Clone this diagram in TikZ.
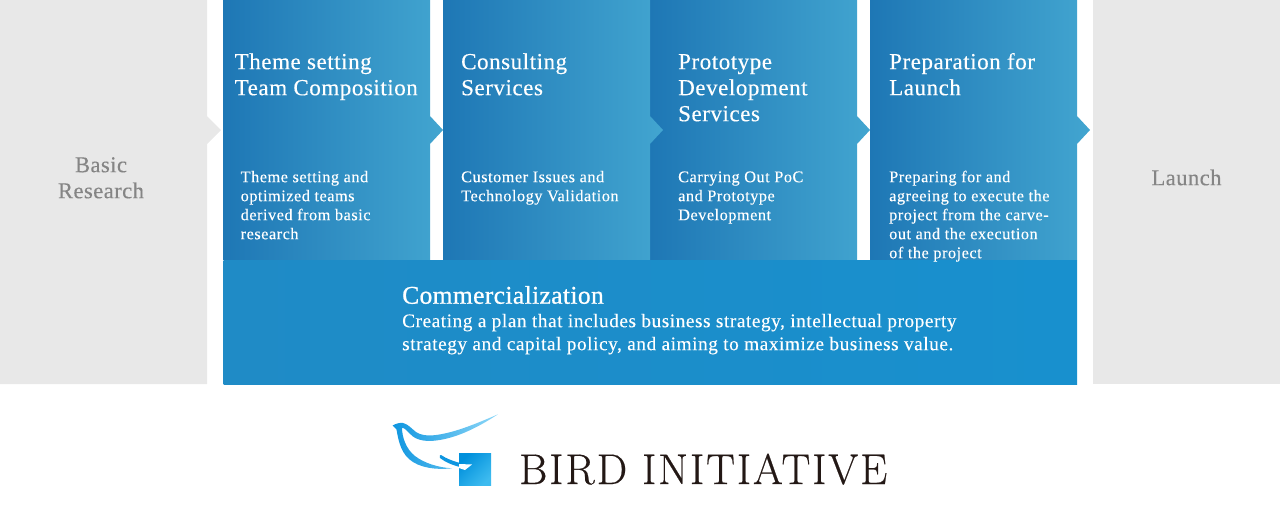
\documentclass[tikz,border=0pt]{standalone}
\usepackage{fontspec}
\setmainfont{Liberation Serif}
\newfontfamily\logofont[LetterSpace=4.7,FakeBold=0.5]{Latin Modern Roman}
\newfontfamily\titlefont[LetterSpace=2.4,FakeBold=0.3]{Liberation Serif}
\newfontfamily\graylabelfont[LetterSpace=2,FakeBold=0.3]{Liberation Serif}
\newfontfamily\bodyfont[LetterSpace=3.1,FakeBold=0.15]{Liberation Serif}
\newfontfamily\leadfont[LetterSpace=2.8,FakeBold=0.15]{Liberation Serif}
\newfontfamily\headfont[LetterSpace=1.5,FakeBold=0.8]{Liberation Serif}
\definecolor{panelgray}{HTML}{E8E8E8}
\definecolor{graytext}{HTML}{858585}
\definecolor{boxleft}{HTML}{1E77B5}
\definecolor{boxmid}{HTML}{2A8AC2}
\definecolor{boxright}{HTML}{42A5D0}
\definecolor{bandleft}{HTML}{1F8BC6}
\definecolor{bandright}{HTML}{1890CE}
\definecolor{logoink}{HTML}{231815}
\definecolor{birdblue}{HTML}{0F96E0}
\definecolor{birdpale}{HTML}{8FD8F8}
\definecolor{squaredark}{HTML}{0090DC}
\definecolor{squarelight}{HTML}{3DBBEF}
\tikzset{
  stagebox/.style={left color=boxleft,middle color=boxmid,right color=boxright,draw=none},
  grayblock/.style={fill=panelgray,draw=none},
  titletext/.style={anchor=north west,inner sep=0pt,align=left,text=white,font=\titlefont\fontsize{23}{26}\selectfont},
  bodytext/.style={anchor=north west,inner sep=0pt,align=left,text=white,font=\bodyfont\fontsize{16.3}{19}\selectfont},
  graylabel/.style={anchor=north,inner sep=0pt,align=center,text=graytext,font=\graylabelfont\fontsize{22.6}{26}\selectfont},
}
\begin{document}
\begin{tikzpicture}[x=1pt,y=-1pt]
\useasboundingbox (0,0) rectangle (1280,504);
% gray panels
\path[grayblock] (0,0) -- (207,0) -- (207,116) -- (221,130) -- (207,144) -- (207,384) -- (0,384) -- cycle;
\path[grayblock] (1093,0) rectangle (1280,384);
% stages, last to first so that each tip lies over the next box
\path[stagebox] (870,0) -- (1077,0) -- (1077,116) -- (1090,130) -- (1077,144) -- (1077,260) -- (870,260) -- cycle;
\path[stagebox] (650,0) -- (857,0) -- (857,116) -- (870,130) -- (857,144) -- (857,260) -- (650,260) -- cycle;
\path[stagebox] (443,0) -- (650,0) -- (650,116) -- (663,130) -- (650,144) -- (650,260) -- (443,260) -- cycle;
\path[stagebox] (223,0) -- (430,0) -- (430,116) -- (443,130) -- (430,144) -- (430,260) -- (223,260) -- cycle;
% band
\path[left color=bandleft,right color=bandright] (223.5,260) rectangle (1077,384);
% labels
\node[graylabel] (basic) at (101,153.8) {\strut Basic\\Research};
\node[graylabel] (launch) at (1186.5,166.8) {\strut Launch};
\node[titletext] (t1) at (234.5,50.8) {\strut Theme setting\\Team Composition};
\node[titletext] (t2) at (461,50.8) {\strut Consulting\\Services};
\node[titletext] (t3) at (678,50.8) {\strut Prototype\\Development\\Services};
\node[titletext] (t4) at (889,50.8) {\strut Preparation for\\Launch};
\node[bodytext] (b1) at (240.5,168.7) {\strut Theme setting and\\optimized teams\\derived from basic\\research};
\node[bodytext] (b2) at (461,168.7) {\strut Customer Issues and\\Technology Validation};
\node[bodytext] (b3) at (678,168.7) {\strut Carrying Out PoC\\and Prototype\\Development};
\node[bodytext] (b4) at (889,168.7) {\strut Preparing for and\\agreeing to execute the\\project from the carve-\\out and the execution\\of the project};
\node[anchor=north west,inner sep=0pt,text=white,font=\headfont\fontsize{25.5}{28}\selectfont] (c1) at (402,283.9) {\strut Commercialization};
\node[anchor=north west,inner sep=0pt,align=left,text=white,font=\leadfont\fontsize{19.3}{23}\selectfont] (c2) at (402,310.9) {\strut Creating a plan that includes business strategy, intellectual property\\strategy and capital policy, and aiming to maximize business value.};
% logo
\path[left color=birdblue,middle color=birdblue,right color=birdpale] (392.7,425.5) .. controls (396,423.5) and (400,422.5) .. (403,423) .. controls (408,424) and (412,429) .. (416,432) .. controls (421,435.5) and (428,436) .. (436,435) .. controls (456,432.5) and (480,422) .. (498,414.3) .. controls (480,426) and (458,438) .. (436,440.5) .. controls (428,441.5) and (419,441) .. (413,436.5) .. controls (409,433.5) and (406,428.5) .. (402,427.5) .. controls (402,437) and (406,449) .. (415,456) .. controls (424,463) and (438,467.5) .. (452,468.3) .. controls (436,470) and (419,468) .. (409,459) .. controls (400,451) and (398,438) .. (396.5,429.5) .. controls (395.5,428) and (394,427) .. (392.7,425.5) -- cycle;
\path[fill=birdblue] (440,458) .. controls (439,456) and (440,454.5) .. (441,455) .. controls (447,459) and (453,461) .. (460,463) -- (460,467) .. controls (452,465) and (445,462) .. (440,458) -- cycle;
\path[left color=squaredark,right color=squarelight,shading angle=-45+90] (459,453.7) rectangle (491,485.3);
\path[fill=white] (459,464) -- (472,464.5) -- (465,470) -- (459,468) -- cycle;
\node[anchor=base west,inner sep=0pt,text=logoink,font=\logofont\fontsize{43}{43}\selectfont] (logo) at (519,484) {BIRD INITIATIVE};
\end{tikzpicture}
\end{document}
